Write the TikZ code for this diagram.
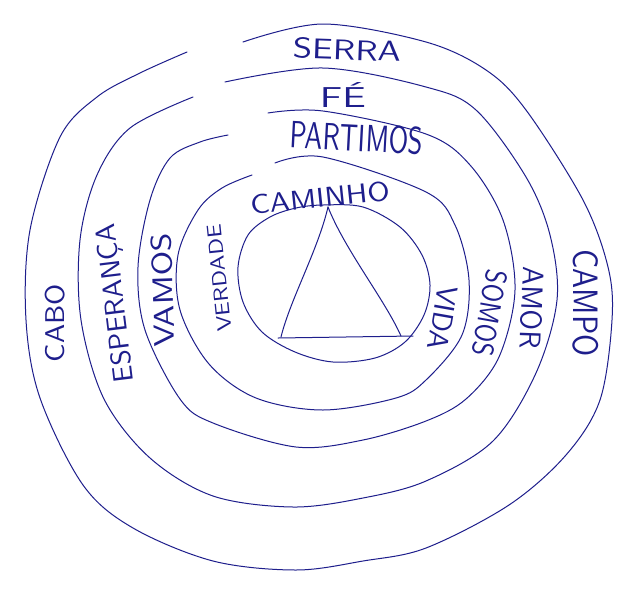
\documentclass[tikz,border=0pt]{standalone}
\usepackage{graphicx}
\definecolor{inkblue}{RGB}{30,30,140}
\newcommand{\penword}[3]{\resizebox*{#1pt}{#2pt}{\sffamily #3}}
\tikzset{
	ring/.style={inkblue, line width=1pt, line cap=round, line join=round},
	word/.style={text=inkblue, inner sep=0pt}
}

\begin{document}
\begin{tikzpicture}[x=1pt,y=-1pt]
	\useasboundingbox[fill=white] (0,0) rectangle (640,598);

	% rings, from the outside in, each open at the upper left
	\draw[ring] plot[smooth,tension=.55] coordinates {(243,42) (323,24) (426,42) (486,70) (526,110) (583,200) (608,267) (612,320) (600,400) (566,455) (509,505) (426,548) (363,561) (296,570) (213,561) (133,528) (83,485) (40,398) (26,320) (30,230) (60,137) (97,97) (140,73) (187,52)};
	\draw[ring] plot[smooth,tension=.55] coordinates {(225,82) (323,68) (426,87) (476,110) (526,177) (550,235) (557,300) (536,373) (493,441) (426,481) (363,498) (293,507) (213,496) (150,458) (104,399) (81,320) (80,240) (97,175) (130,128) (193,97)};
	\draw[ring] plot[smooth,tension=.55] coordinates {(268,113) (323,111) (426,134) (470,165) (503,220) (515,290) (499,357) (466,399) (426,421) (363,440) (296,447) (213,423) (180,399) (145,330) (138,267) (150,200) (170,158) (200,142) (228,135)};
	\draw[ring] plot[smooth,tension=.55] coordinates {(275,163) (323,157) (426,192) (455,225) (469,280) (462,335) (426,380) (396,398) (323,410) (256,398) (209,364) (180,310) (178,255) (198,210) (222,188) (252,175)};
	\draw[ring] plot[smooth cycle,tension=.55] coordinates {(323,205) (363,207) (400,227) (422,255) (430,285) (424,315) (405,342) (375,358) (333,362) (295,352) (262,332) (243,302) (238,267) (248,235) (270,217) (296,208)};

	% triangle in the middle
	\coordinate (apex) at (328,207);
	\coordinate (left) at (281,337);
	\coordinate (right) at (401,336);
	\draw[ring] (apex) .. controls (318,250) and (290,300) .. (left);
	\draw[ring] (apex) .. controls (345,250) and (385,300) .. (right);
	\draw[ring] (278,338) -- (413,336);

	% words along the rings
	\node[word,rotate=-2] (serra) at (347,50) {\penword{108}{21}{SERRA}};
	\node[word] (fe) at (343,95) {\penword{46}{25}{FÉ}};
	\node[word,rotate=-3] (partimos) at (357,138) {\penword{133}{28}{PARTIMOS}};
	\node[word,rotate=6] (caminho) at (320,198) {\penword{140}{20}{CAMINHO}};

	\node[word,rotate=90] (cabo) at (55,323) {\penword{78}{20}{CABO}};
	\node[word,rotate=97] (esperanca) at (117,303) {\penword{160}{26}{ESPERANÇA}};
	\node[word,rotate=92] (vamos) at (163,290) {\penword{114}{21}{VAMOS}};
	\node[word,rotate=96] (verdade) at (219,278) {\penword{107}{14}{VERDADE}};

	\node[word,rotate=-100] (vida) at (443,318) {\penword{65}{20}{VIDA}};
	\node[word,rotate=-100] (somos) at (490,313) {\penword{87}{22}{SOMOS}};
	\node[word,rotate=-92] (amor) at (532,308) {\penword{82}{22}{AMOR}};
	\node[word,rotate=-90] (campo) at (586,303) {\penword{107}{26}{CAMPO}};
\end{tikzpicture}
\end{document}
